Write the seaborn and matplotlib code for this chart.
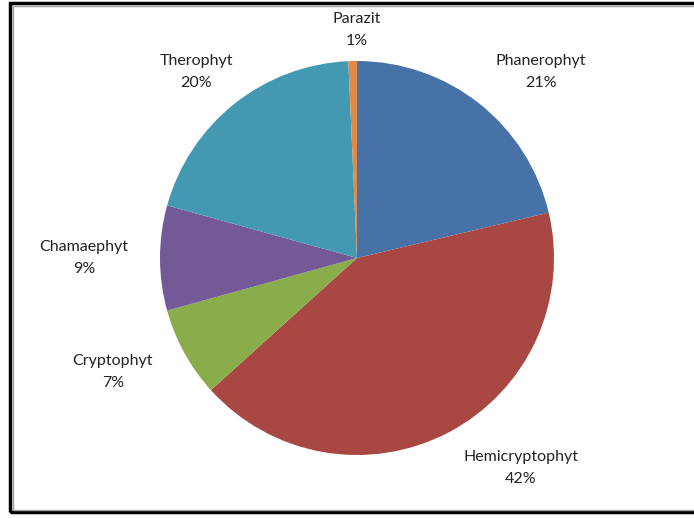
import seaborn as sns
import matplotlib.pyplot as plt
from matplotlib.patches import Rectangle

categories = ["Phanerophyt", "Hemicryptophyt", "Cryptophyt", "Chamaephyt", "Therophyt", "Parazit"]
shares = [21.3, 42.0, 7.4, 8.6, 20.0, 0.7]
colors = ["#4672A8", "#A94843", "#8AAD4C", "#735996", "#4499B2", "#E08A44"]

# label anchors relative to pie radius (layout only)
label_pos = {
    "Phanerophyt": (0.934, 0.944),
    "Hemicryptophyt": (0.832, -1.066),
    "Cryptophyt": (-1.239, -0.579),
    "Chamaephyt": (-1.386, 0.0),
    "Therophyt": (-0.817, 0.944),
    "Parazit": (0.0, 1.157),
}

sns.set_theme(style="white")
plt.rcParams["font.family"] = ["Lato", "DejaVu Sans"]

fig = plt.figure(figsize=(6.94, 5.18), dpi=100)
fig.patch.set_facecolor("white")

# outer chart frame
fig.add_artist(Rectangle((10 / 694, 6 / 518), 700 / 694, 509 / 518,
                         transform=fig.transFigure, fill=False,
                         edgecolor="black", lw=2.5))
fig.add_artist(Rectangle((12.5 / 694, 8.5 / 518), 700 / 694, 504 / 518,
                         transform=fig.transFigure, fill=False,
                         edgecolor="#a0a0a0", lw=1.0))

cx, cy, r = 357 / 694, 1 - 258 / 518, 197
ax = fig.add_axes([cx - r / 694, cy - r / 518, 2 * r / 694, 2 * r / 518])
ax.pie(shares, colors=sns.color_palette(colors), startangle=90,
       counterclock=False, radius=1.0,
       wedgeprops=dict(linewidth=0))
ax.set_xlim(-1, 1)
ax.set_ylim(-1, 1)
ax.set_aspect("equal")
ax.axis("off")

for name, val in zip(categories, shares):
    x, y = label_pos[name]
    ax.text(x, y, f"{name}\n{round(val)}%", ha="center", va="center",
            fontsize=11.5, color="#222222", linespacing=1.72, clip_on=False)

fig.savefig("out.png", dpi=100)
